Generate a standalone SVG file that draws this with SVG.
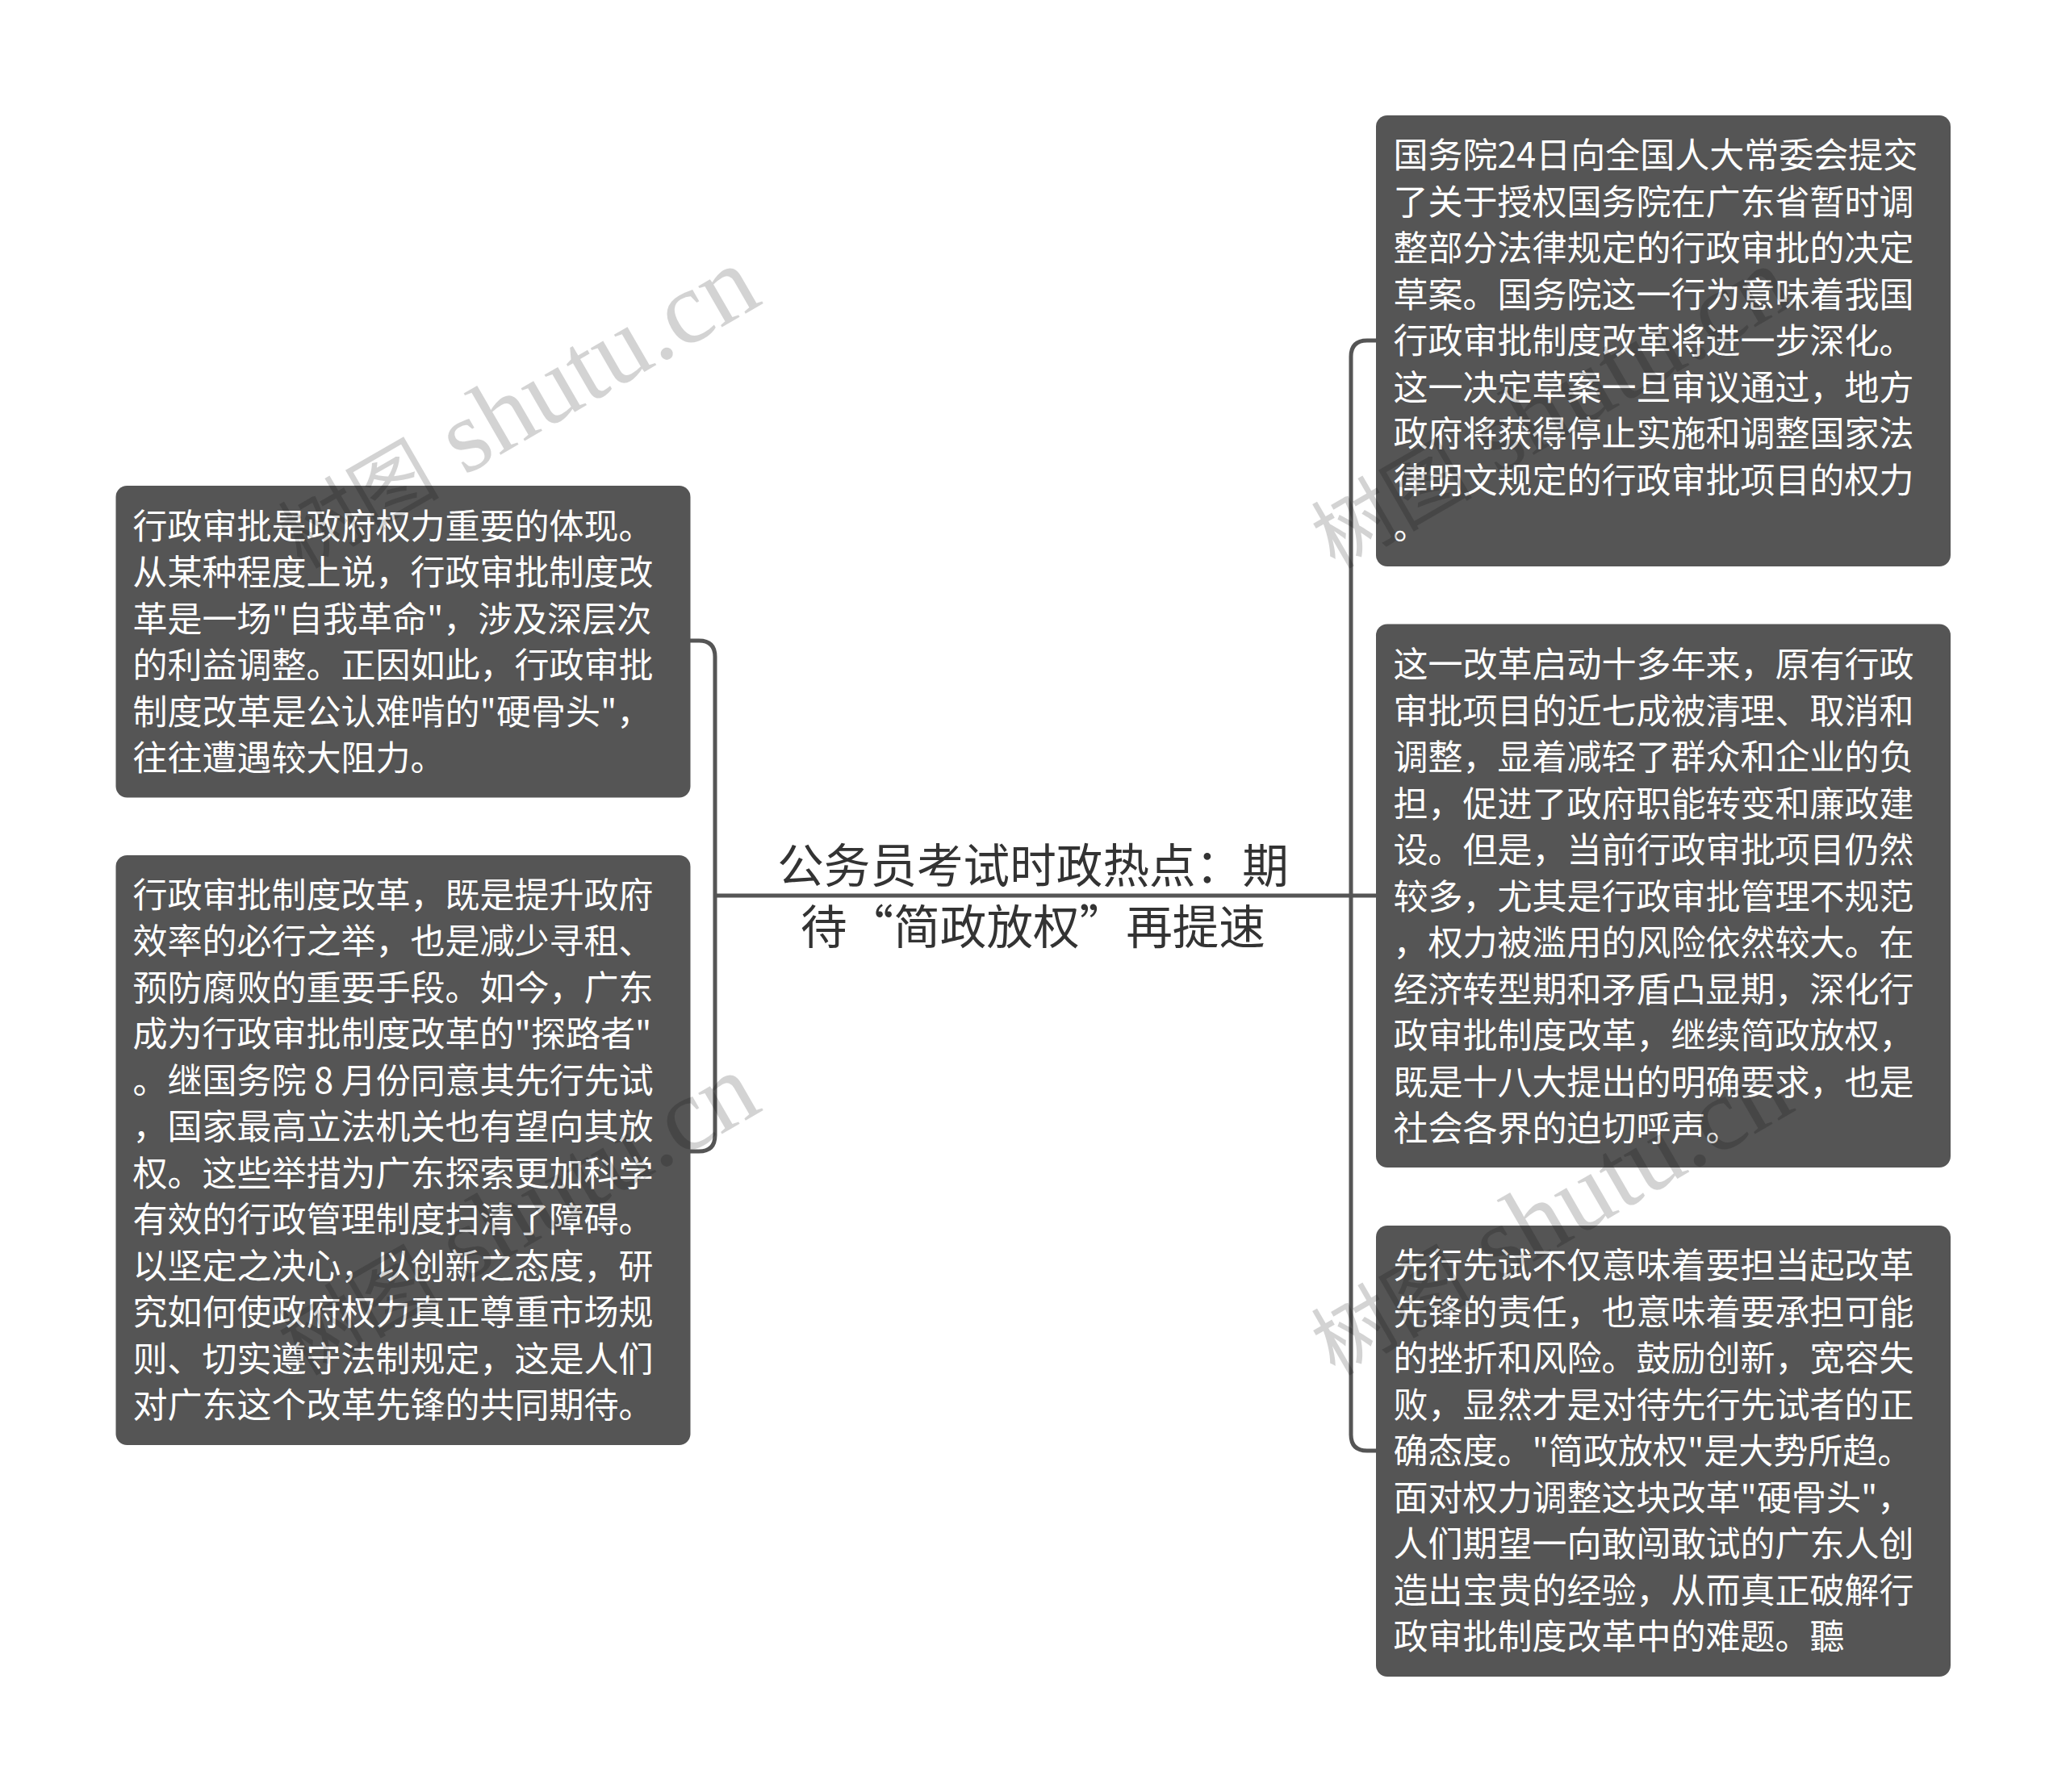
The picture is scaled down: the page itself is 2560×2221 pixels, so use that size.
<svg xmlns="http://www.w3.org/2000/svg" width="2560" height="2221" viewBox="0 0 2560 2221">
<style>
.box{fill:#555}
.t{font-family:"Noto Sans CJK SC","Noto Sans",sans-serif;font-size:43px;fill:#fff}
.title{font-family:"Noto Sans CJK SC","Noto Sans",sans-serif;font-size:57.6px;fill:#333;text-anchor:middle}
.wm{font-family:"Liberation Serif","Noto Sans CJK SC",serif;font-size:128px;fill:#000;opacity:.17}
.cjk{font-family:"Noto Sans CJK SC",serif;font-size:100px}
.c{fill:none;stroke:#555;stroke-width:5}
</style>
<rect width="2560" height="2221" fill="#fff"/>
<g id="connectors">
<path class="c" d="M885 1110H1705"/>
<path class="c" d="M855 794H866Q886 794 886 814V1407Q886 1427 866 1427H855"/>
<path class="c" d="M1705 422H1694Q1674 422 1674 442V1778Q1674 1798 1694 1798H1705"/>
</g>
<g id="root"><text class="title" x="1280" y="1094">公务员考试时政热点：期</text><text class="title" x="1280" y="1170">待“简政放权”再提速</text></g>
<g id="left1"><rect class="box" x="143.5" y="602" width="712" height="386.5" rx="14"/>
<text class="t" x="164.5" y="667.5">行政审批是政府权力重要的体现。</text>
<text class="t" x="164.5" y="725">从某种程度上说，行政审批制度改</text>
<text class="t" x="164.5" y="782.5">革是一场"自我革命"，涉及深层次</text>
<text class="t" x="164.5" y="840">的利益调整。正因如此，行政审批</text>
<text class="t" x="164.5" y="897.5">制度改革是公认难啃的"硬骨头"，</text>
<text class="t" x="164.5" y="955">往往遭遇较大阻力。</text></g>
<g id="left2"><rect class="box" x="143.5" y="1060" width="712" height="731" rx="14"/>
<text class="t" x="164.5" y="1124.5">行政审批制度改革，既是提升政府</text>
<text class="t" x="164.5" y="1182">效率的必行之举，也是减少寻租、</text>
<text class="t" x="164.5" y="1239.5">预防腐败的重要手段。如今，广东</text>
<text class="t" x="164.5" y="1297">成为行政审批制度改革的"探路者"</text>
<text class="t" x="164.5" y="1354.5">。继国务院 8 月份同意其先行先试</text>
<text class="t" x="164.5" y="1412">，国家最高立法机关也有望向其放</text>
<text class="t" x="164.5" y="1469.5">权。这些举措为广东探索更加科学</text>
<text class="t" x="164.5" y="1527">有效的行政管理制度扫清了障碍。</text>
<text class="t" x="164.5" y="1584.5">以坚定之决心，以创新之态度，研</text>
<text class="t" x="164.5" y="1642">究如何使政府权力真正尊重市场规</text>
<text class="t" x="164.5" y="1699.5">则、切实遵守法制规定，这是人们</text>
<text class="t" x="164.5" y="1757">对广东这个改革先锋的共同期待。</text></g>
<g id="right1"><rect class="box" x="1705" y="143" width="712" height="559" rx="14"/>
<text class="t" x="1726.5" y="208">国务院24日向全国人大常委会提交</text>
<text class="t" x="1726.5" y="265.5">了关于授权国务院在广东省暂时调</text>
<text class="t" x="1726.5" y="323">整部分法律规定的行政审批的决定</text>
<text class="t" x="1726.5" y="380.5">草案。国务院这一行为意味着我国</text>
<text class="t" x="1726.5" y="438">行政审批制度改革将进一步深化。</text>
<text class="t" x="1726.5" y="495.5">这一决定草案一旦审议通过，地方</text>
<text class="t" x="1726.5" y="553">政府将获得停止实施和调整国家法</text>
<text class="t" x="1726.5" y="610.5">律明文规定的行政审批项目的权力</text>
<text class="t" x="1726.5" y="668">。</text></g>
<g id="right2"><rect class="box" x="1705" y="773.5" width="712" height="673.5" rx="14"/>
<text class="t" x="1726.5" y="839">这一改革启动十多年来，原有行政</text>
<text class="t" x="1726.5" y="896.5">审批项目的近七成被清理、取消和</text>
<text class="t" x="1726.5" y="954">调整，显着减轻了群众和企业的负</text>
<text class="t" x="1726.5" y="1011.5">担，促进了政府职能转变和廉政建</text>
<text class="t" x="1726.5" y="1069">设。但是，当前行政审批项目仍然</text>
<text class="t" x="1726.5" y="1126.5">较多，尤其是行政审批管理不规范</text>
<text class="t" x="1726.5" y="1184">，权力被滥用的风险依然较大。在</text>
<text class="t" x="1726.5" y="1241.5">经济转型期和矛盾凸显期，深化行</text>
<text class="t" x="1726.5" y="1299">政审批制度改革，继续简政放权，</text>
<text class="t" x="1726.5" y="1356.5">既是十八大提出的明确要求，也是</text>
<text class="t" x="1726.5" y="1414">社会各界的迫切呼声。</text></g>
<g id="right3"><rect class="box" x="1705" y="1519" width="712" height="559" rx="14"/>
<text class="t" x="1726.5" y="1584">先行先试不仅意味着要担当起改革</text>
<text class="t" x="1726.5" y="1641.5">先锋的责任，也意味着要承担可能</text>
<text class="t" x="1726.5" y="1699">的挫折和风险。鼓励创新，宽容失</text>
<text class="t" x="1726.5" y="1756.5">败，显然才是对待先行先试者的正</text>
<text class="t" x="1726.5" y="1814">确态度。"简政放权"是大势所趋。</text>
<text class="t" x="1726.5" y="1871.5">面对权力调整这块改革"硬骨头"，</text>
<text class="t" x="1726.5" y="1929">人们期望一向敢闯敢试的广东人创</text>
<text class="t" x="1726.5" y="1986.5">造出宝贵的经验，从而真正破解行</text>
<text class="t" x="1726.5" y="2044">政审批制度改革中的难题。聽</text></g>
<g id="watermarks">
<text class="wm" transform="translate(374 706) rotate(-30)"><tspan class="cjk">树图</tspan> shutu.cn</text>
<text class="wm" transform="translate(374 1706) rotate(-30)"><tspan class="cjk">树图</tspan> shutu.cn</text>
<text class="wm" transform="translate(1654 706) rotate(-30)"><tspan class="cjk">树图</tspan> shutu.cn</text>
<text class="wm" transform="translate(1654 1706) rotate(-30)"><tspan class="cjk">树图</tspan> shutu.cn</text>
</g>
</svg>
